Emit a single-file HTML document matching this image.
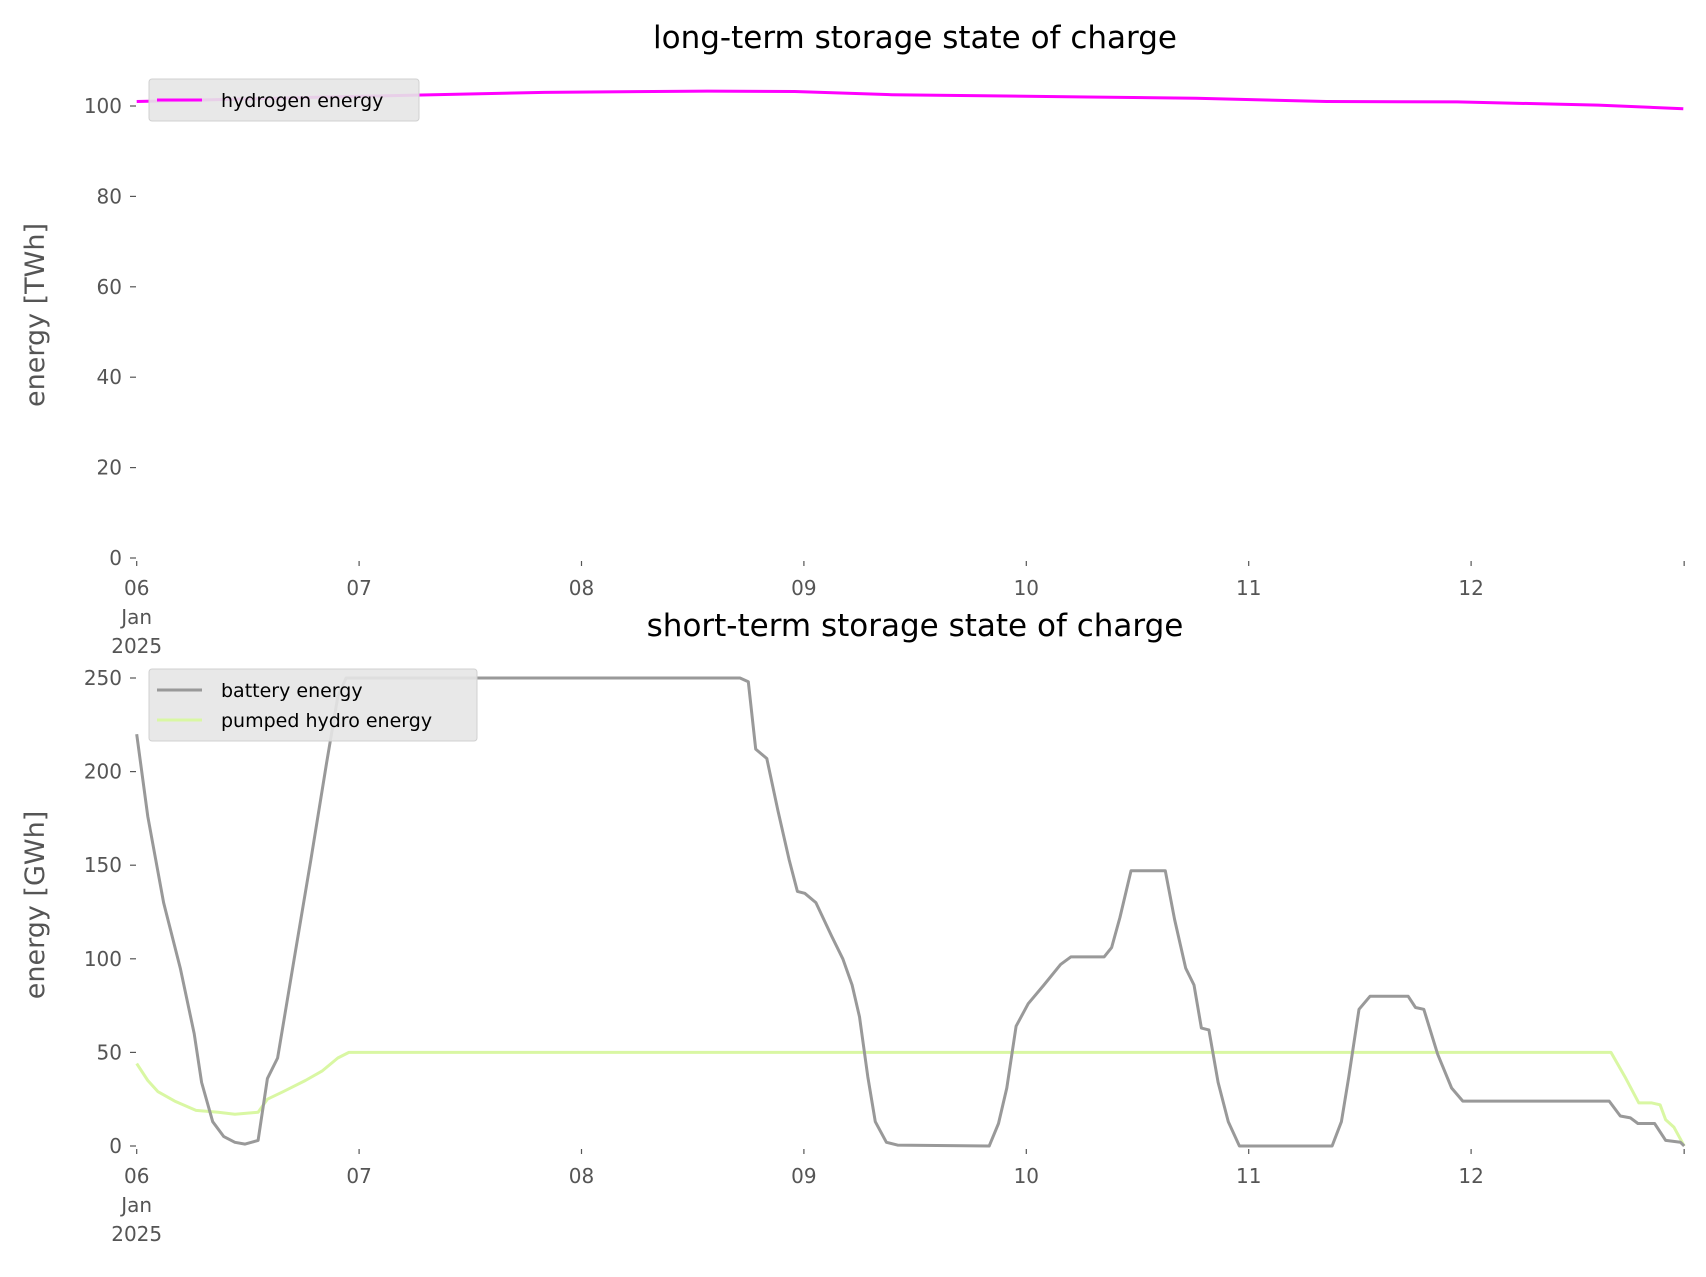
<!DOCTYPE html>
<html><head><meta charset="utf-8"><style>
html,body{margin:0;padding:0;background:#fff;}
svg{display:block;font-family:"DejaVu Sans","Liberation Sans",sans-serif;}
</style></head><body>
<svg id="fig" width="1706" height="1277" viewBox="0 0 1706 1277" xmlns="http://www.w3.org/2000/svg"></svg>
<script>
// ---- data ----
const dayLabels = ["06","07","08","09","10","11","12"];
const topTicks = [0,20,40,60,80,100];
const bottomTicks = [0,50,100,150,200,250];
const h2Hours = [0,20.5,44,61.6,71,81.5,102.6,114.3,128.4,142.5,157.7,166.9];
const h2Values = [101,102,103,103.3,103.2,102.5,102,101.7,101,100.9,100.2,99.4];
const batHours = [0,1.2,2.9,4.7,6.2,7,8.2,9.4,10.6,11.7,13.1,14.1,15.2,17,18.8,20.5,21.7,22.6,65.1,66,66.8,68,69.2,70.4,71.3,72.1,73.3,75,76.2,77.2,78,78.9,79.7,80.9,82.1,92,93,93.9,94.9,96.2,97.9,99.7,100.8,104.4,105.2,106.1,107.3,111,112,113.2,114.1,114.9,115.7,116.7,117.8,119,129,130,130.8,131.9,133.1,137.2,138,138.9,140.4,141.9,143.1,158.9,160.1,161.2,162,163.8,165,166.6,167];
const batValues = [220,176,130,95,60,34,13,5,2,1,3,36,47,100,153,205,240,250,250,248,212,207,179,153,136,135,130,112,100,86,69,37,13,2,0.5,0,12,31,64,76,86,97,101,101,106,122,147,147,121,95,86,63,62,34,13,0,0,13,37,73,80,80,74,73,49,31,24,24,16,15,12,12,3,2,0];
const phHours = [0,1.2,2.3,4.1,6.4,8.8,10.6,13.1,14.1,15.8,18.2,20,21.7,22.9,159.1,160.6,162.1,163.5,164.4,165,165.9,167];
const phValues = [44,35,29,24,19,18,17,18,25,29,35,40,47,50,50,37,23,23,22,14,10,0];

// ---- layout ----
const NS="http://www.w3.org/2000/svg";
const svg=document.getElementById('fig');
const X0=136.7, DAY=222.4;
function xs(h){return X0+h*DAY/24;}
function mk(tag,attrs,parent){const e=document.createElementNS(NS,tag);for(const k in attrs)e.setAttribute(k,attrs[k]);(parent||svg).appendChild(e);return e;}
function ysTop(v){return 558-(v/100)*(558-106);}
function ysBot(v){return 1146-(v/250)*(1146-678);}

function axis(ys,ticks,prefix,titleY,title,ylabel,ylabelY){
  const g=mk('g',{});
  
  
  ticks.forEach(t=>{
    const y=ys(t);
    const l=mk('line',{x1:130,x2:136,y1:y,y2:y,stroke:'#555','stroke-width':1.2},g);
    
    
    const tx=mk('text',{x:122,y:y+7,'text-anchor':'end','font-size':20,fill:'#555'},g);
    tx.textContent=t;
    
    
  });
  const y0=ys(0);
  for(let i=0;i<=7;i++){
    const x=X0+(i==7?6.958:i)*DAY;
    const l=mk('line',{x1:x,x2:x,y1:y0+3,y2:y0+8,stroke:'#555','stroke-width':1.2},g);
    
    
  }
  dayLabels.forEach((d,i)=>{
    const tx=mk('text',{x:X0+i*DAY,y:y0+37,'text-anchor':'middle','font-size':20,fill:'#555'},g);
    tx.textContent=d;
    
    
  });
  ['Jan','2025'].forEach((s,i)=>{
    const tx=mk('text',{x:X0,y:y0+66+i*29,'text-anchor':'middle','font-size':20,fill:'#555'},g);
    tx.textContent=s;
    
    
  });
  const tt=mk('text',{x:915,y:titleY,'text-anchor':'middle','font-size':31,fill:'#000'},g);
  tt.textContent=title;
  
  
  const yl=mk('text',{x:0,y:0,'text-anchor':'middle','font-size':27,fill:'#555',transform:'translate(44,'+ylabelY+') rotate(-90)'},g);
  yl.textContent=ylabel;
  
  
}
function line(hours,vals,ys,color,name){
  const d=hours.map((h,i)=>(i?'L':'M')+xs(h).toFixed(1)+','+ys(vals[i]).toFixed(1)).join(' ');
  const p=mk('path',{d:d,fill:'none',stroke:color,'stroke-width':3,'stroke-linejoin':'round'});
  
  
}
function legend(x,y,w,entries,prefix){
  const g=mk('g',{});
  
  
  mk('rect',{x:x,y:y,width:w,height:12+entries.length*30,rx:3,fill:'#e5e5e5','fill-opacity':0.9,stroke:'#d0d0d0'},g);
  entries.forEach((e,i)=>{
    const cy=y+21+i*30;
    const l=mk('line',{x1:x+8,x2:x+53,y1:cy,y2:cy,stroke:e[1],'stroke-width':3},g);
    
    
    const t=mk('text',{x:x+72,y:cy+7,'font-size':19,fill:'#000'},g);
    t.textContent=e[0];
    
    
  });
}
axis(ysTop,topTicks,'top',48,'long-term storage state of charge','energy [TWh]',315);
line(h2Hours,h2Values,ysTop,'#ff00ff','hydrogen-energy-line');
legend(149,79,270,[['hydrogen energy','#ff00ff']],'top');

axis(ysBot,bottomTicks,'bottom',636,'short-term storage state of charge','energy [GWh]',905);
line(phHours,phValues,ysBot,'#d9f7a3','pumped-hydro-energy-line');
line(batHours,batValues,ysBot,'#999999','battery-energy-line');
legend(149,669,328,[['battery energy','#999999'],['pumped hydro energy','#d9f7a3']],'bottom');
</script>
</body></html>
